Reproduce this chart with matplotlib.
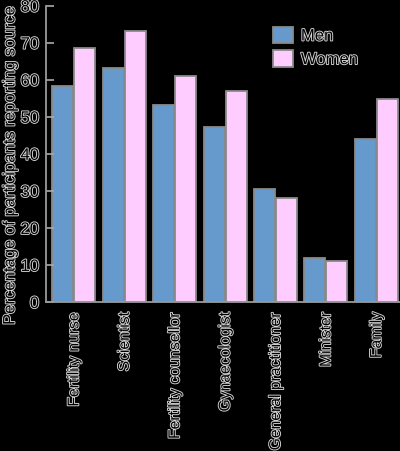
import matplotlib
matplotlib.use("Agg")
import matplotlib.pyplot as plt
import matplotlib.patheffects as pe
import numpy as np

categories = ["Fertility nurse", "Scientist", "Fertility counsellor", "Gynaecologist",
              "General practitioner", "Minister", "Family"]
men = [58.2, 63.1, 53.2, 47.2, 30.4, 12.0, 44.1]
women = [68.7, 73.3, 60.9, 57.1, 28.2, 11.2, 54.7]
yticks = [0, 10, 20, 30, 40, 50, 60, 70, 80]

plt.rcParams['font.family'] = ['Liberation Sans', 'DejaVu Sans']
TXT = dict(color='black', path_effects=[pe.withStroke(linewidth=1.3, foreground='#d8d8d8')])

fig = plt.figure(figsize=(4, 4.52), dpi=100, facecolor='black')
ax = fig.add_axes([0.115, 0.3296, 0.885, 0.6556])
ax.set_facecolor('black')

x = np.arange(len(categories))
w = 0.416
off = 0.218
ax.bar(x - off, men, width=w, color='#6699CC', edgecolor='#8a8a8a', linewidth=1.3, label='Men')
ax.bar(x + off, women, width=w, color='#FFCCFF', edgecolor='#8a8a8a', linewidth=1.3, label='Women')

ax.set_xlim(-0.554, 6.47)
ax.set_ylim(0, 80)
ax.set_yticks(yticks)
ax.set_yticklabels([str(t) for t in yticks], fontsize=12, **TXT)
ax.set_xticks(x)
ax.set_xticklabels(categories, rotation=90, fontsize=11.3, va='top', ha='center', **TXT)
ax.tick_params(axis='y', direction='in', length=6, width=1.2, color='#aaaaaa', pad=5)
ax.tick_params(axis='x', length=0, pad=7)
for s in ['top', 'right']:
    ax.spines[s].set_visible(False)
for s in ['left', 'bottom']:
    ax.spines[s].set_color('#9a9a9a')
    ax.spines[s].set_linewidth(1.3)

fig.text(10 / 400, 1 - 166 / 452, 'Percentage of participants reporting source', fontsize=12,
         rotation=90, ha='center', va='center', **TXT)

leg = ax.legend(loc='upper left', bbox_to_anchor=(0.6, 0.98), frameon=False, fontsize=12,
                handlelength=1.15, handleheight=1.15, labelspacing=0.4, handletextpad=0.5)
for t in leg.get_texts():
    t.set_color('black')
    t.set_path_effects([pe.withStroke(linewidth=1.3, foreground='#d8d8d8')])

fig.savefig('out.png', dpi=100, facecolor='black')
